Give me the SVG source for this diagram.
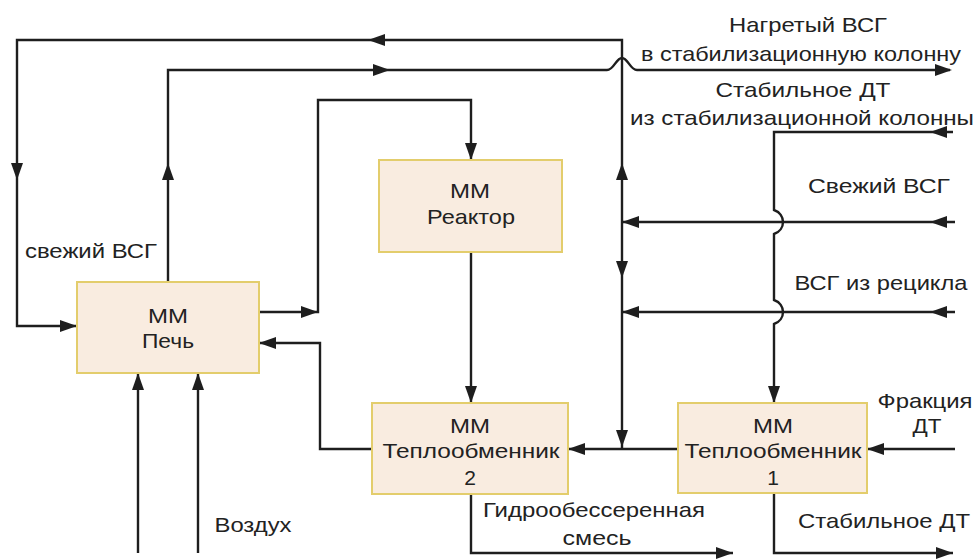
<svg xmlns="http://www.w3.org/2000/svg" xmlns:xlink="http://www.w3.org/1999/xlink" width="977" height="559" viewBox="0 0 977 559">
<style>
.ln{fill:none;stroke:#1e1e1e;stroke-width:2.4;stroke-linejoin:miter}
.box{fill:#f9ece0;stroke:#e3cd6c;stroke-width:2}
.t{font-family:"Liberation Sans",Arial,sans-serif;font-size:21px;fill:#222;text-anchor:middle}
.ah{fill:#1e1e1e}
</style>
<defs>
<path id="ah" class="ah" d="M0,0 L-17,-6 L-17,6 Z"/>
</defs>
<rect width="977" height="559" fill="#fff"/>
<g id="connectors">
<path class="ln" d="M622,449 V40 H17 V326 H77"/>
<path class="ln" d="M168,282 V70 H607 C614,70 616,58 622,58 C628,58 630,70 637,70 H950"/>
<path class="ln" d="M259,312 H318 V100 H471 V160"/>
<path class="ln" d="M471,252 V403"/>
<path class="ln" d="M678,449 H568"/>
<path class="ln" d="M372,449 H320 V343 H259"/>
<path class="ln" d="M955,222 H622"/>
<path class="ln" d="M955,312 H622"/>
<path class="ln" d="M953,132 H774 V210 C786,214 786,230 774,234 V300 C786,304 786,320 774,324 V403"/>
<path class="ln" d="M955,449 H867"/>
<path class="ln" d="M138,553 V373 M198,553 V373"/>
<path class="ln" d="M471,494 V553 H733"/>
<path class="ln" d="M774,493 V553 H953"/>
<use xlink:href="#ah" transform="translate(368,40) rotate(180)"/>
<use xlink:href="#ah" transform="translate(390,70)"/>
<use xlink:href="#ah" transform="translate(952,70)"/>
<use xlink:href="#ah" transform="translate(17,180) rotate(90)"/>
<use xlink:href="#ah" transform="translate(168,163) rotate(-90)"/>
<use xlink:href="#ah" transform="translate(77,326)"/>
<use xlink:href="#ah" transform="translate(318,312)"/>
<use xlink:href="#ah" transform="translate(471,160) rotate(90)"/>
<use xlink:href="#ah" transform="translate(471,403) rotate(90)"/>
<use xlink:href="#ah" transform="translate(259,343) rotate(180)"/>
<use xlink:href="#ah" transform="translate(622,163) rotate(-90)"/>
<use xlink:href="#ah" transform="translate(622,278) rotate(90)"/>
<use xlink:href="#ah" transform="translate(622,222) rotate(180)"/>
<use xlink:href="#ah" transform="translate(930,222) rotate(180)"/>
<use xlink:href="#ah" transform="translate(622,312) rotate(180)"/>
<use xlink:href="#ah" transform="translate(930,312) rotate(180)"/>
<use xlink:href="#ah" transform="translate(930,132) rotate(180)"/>
<use xlink:href="#ah" transform="translate(774,403) rotate(90)"/>
<use xlink:href="#ah" transform="translate(622,447) rotate(90)"/>
<use xlink:href="#ah" transform="translate(568,449) rotate(180)"/>
<use xlink:href="#ah" transform="translate(867,449) rotate(180)"/>
<use xlink:href="#ah" transform="translate(138,373) rotate(-90)"/>
<use xlink:href="#ah" transform="translate(198,373) rotate(-90)"/>
<use xlink:href="#ah" transform="translate(733,553)"/>
<use xlink:href="#ah" transform="translate(953,553)"/>
</g>
<g id="pech">
<rect class="box" x="77" y="282" width="182" height="91"/>
<text class="t" x="168" y="323" textLength="40" lengthAdjust="spacingAndGlyphs">ММ</text>
<text class="t" x="168" y="348" textLength="52" lengthAdjust="spacingAndGlyphs">Печь</text>
</g>
<g id="reaktor">
<rect class="box" x="379" y="160" width="183" height="92"/>
<text class="t" x="470" y="198" textLength="40" lengthAdjust="spacingAndGlyphs">ММ</text>
<text class="t" x="471" y="224" textLength="88" lengthAdjust="spacingAndGlyphs">Реактор</text>
</g>
<g id="to2">
<rect class="box" x="372" y="403" width="196" height="91"/>
<text class="t" x="470" y="433" textLength="40" lengthAdjust="spacingAndGlyphs">ММ</text>
<text class="t" x="471" y="458" textLength="177" lengthAdjust="spacingAndGlyphs">Теплообменник</text>
<text class="t" x="470" y="485">2</text>
</g>
<g id="to1">
<rect class="box" x="678" y="403" width="189" height="90"/>
<text class="t" x="773" y="433" textLength="40" lengthAdjust="spacingAndGlyphs">ММ</text>
<text class="t" x="773" y="458" textLength="177" lengthAdjust="spacingAndGlyphs">Теплообменник</text>
<text class="t" x="773" y="485">1</text>
</g>
<g id="labels">
<text class="t" x="808" y="32" textLength="158" lengthAdjust="spacingAndGlyphs">Нагретый ВСГ</text>
<text class="t" x="801" y="61" textLength="320" lengthAdjust="spacingAndGlyphs">в стабилизационную колонну</text>
<text class="t" x="803" y="97" textLength="175" lengthAdjust="spacingAndGlyphs">Стабильное ДТ</text>
<text class="t" x="802" y="125" textLength="344" lengthAdjust="spacingAndGlyphs">из стабилизационной колонны</text>
<text class="t" x="879" y="193" textLength="142" lengthAdjust="spacingAndGlyphs">Свежий ВСГ</text>
<text class="t" x="881" y="290" textLength="173" lengthAdjust="spacingAndGlyphs">ВСГ из рецикла</text>
<text class="t" x="91" y="258" textLength="132" lengthAdjust="spacingAndGlyphs">свежий ВСГ</text>
<text class="t" x="925" y="408" textLength="95" lengthAdjust="spacingAndGlyphs">Фракция</text>
<text class="t" x="927" y="433" textLength="29" lengthAdjust="spacingAndGlyphs">ДТ</text>
<text class="t" x="594" y="517" textLength="222" lengthAdjust="spacingAndGlyphs">Гидрообессеренная</text>
<text class="t" x="597" y="545" textLength="69" lengthAdjust="spacingAndGlyphs">смесь</text>
<text class="t" x="884" y="528" textLength="172" lengthAdjust="spacingAndGlyphs">Стабильное ДТ</text>
<text class="t" x="253" y="532" textLength="77" lengthAdjust="spacingAndGlyphs">Воздух</text>
</g>
</svg>
